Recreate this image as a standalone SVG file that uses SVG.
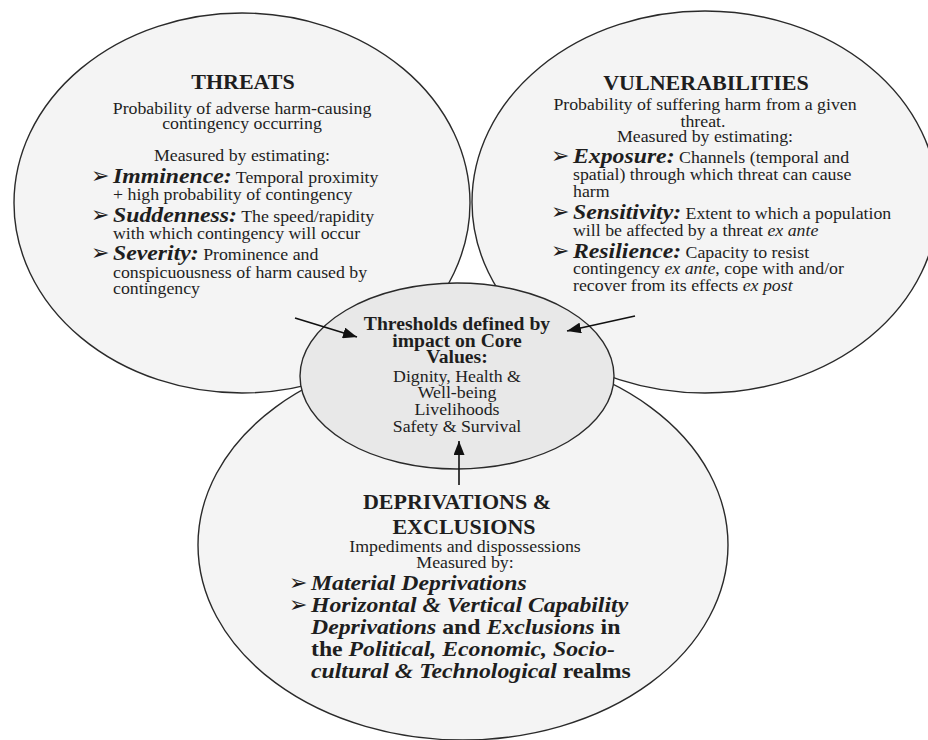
<svg xmlns="http://www.w3.org/2000/svg" width="928" height="740" viewBox="0 0 928 740">
<style>
  .big { fill: #f4f4f4; stroke: none; }
  .outline { fill: none; stroke: #2a2a2a; stroke-width: 1.4; }
  .core { fill: #e8e8e8; stroke: #2a2a2a; stroke-width: 1.4; }
  text { font-family: "Liberation Serif", "Times New Roman", serif; fill: #1e1e1e; font-size: 16.5px; }
  .c { text-anchor: middle; }
  .h { font-weight: bold; font-size: 20.4px; }
  .hc { font-weight: bold; font-size: 18.2px; }
  .bi { font-weight: bold; font-style: italic; font-size: 22px; }
  .bb { font-weight: bold; font-size: 22px; }
  .i { font-style: italic; }
  .bul { font-family: "DejaVu Sans", sans-serif; font-size: 22px; font-weight: bold; fill: #1e1e1e; }
  .conn { stroke: #111; stroke-width: 1.6; fill: none; }
</style>
<defs>
  <marker id="ah" markerUnits="userSpaceOnUse" markerWidth="15" markerHeight="11" refX="14" refY="5.5" orient="auto">
    <path d="M0,0 L14,5.5 L0,11 Z" fill="#111"/>
  </marker>
</defs>
<rect width="928" height="740" fill="#ffffff"/>

<g id="threats">
  <ellipse class="big" cx="242" cy="203" rx="228" ry="190"/>
</g>
<g id="vulnerabilities">
  <ellipse class="big" cx="705" cy="202" rx="233" ry="191"/>
</g>
<g id="deprivations">
  <ellipse class="big" cx="463" cy="545" rx="265" ry="195"/>
</g>
<g id="outlines">
  <ellipse class="outline" cx="242" cy="203" rx="228" ry="190"/>
  <ellipse class="outline" cx="705" cy="202" rx="233" ry="191"/>
  <ellipse class="outline" cx="463" cy="545" rx="265" ry="195"/>
</g>

<g id="threats-text">
  <text class="c h" transform="translate(243,89) scale(1.08,1)">THREATS</text>
  <text class="c" transform="translate(242,114) scale(1.08,1)">Probability of adverse harm-causing</text>
  <text class="c" transform="translate(242,129) scale(1.08,1)">contingency occurring</text>
  <text class="c" transform="translate(242,161) scale(1.08,1)">Measured by estimating:</text>
  <text class="bul" x="91" y="183">➢</text>
  <text transform="translate(113,183) scale(1.08,1)"><tspan class="bi">Imminence:</tspan> Temporal proximity</text>
  <text transform="translate(113,200) scale(1.08,1)">+ high probability of  contingency</text>
  <text class="bul" x="91" y="222">➢</text>
  <text transform="translate(113,222) scale(1.08,1)"><tspan class="bi">Suddenness:</tspan> The speed/rapidity</text>
  <text transform="translate(113,239) scale(1.08,1)">with which contingency will occur</text>
  <text class="bul" x="91" y="260">➢</text>
  <text transform="translate(113,260) scale(1.08,1)"><tspan class="bi">Severity:</tspan> Prominence and</text>
  <text transform="translate(113,278) scale(1.08,1)">conspicuousness of harm caused by</text>
  <text transform="translate(113,294) scale(1.08,1)">contingency</text>
</g>

<g id="vulnerabilities-text">
  <text class="c h" transform="translate(706,90) scale(1.08,1)">VULNERABILITIES</text>
  <text class="c" transform="translate(705,110) scale(1.08,1)">Probability of suffering harm from a given</text>
  <text class="c" transform="translate(703,127) scale(1.08,1)">threat.</text>
  <text class="c" transform="translate(705,142) scale(1.08,1)">Measured by estimating:</text>
  <text class="bul" x="551" y="163">➢</text>
  <text transform="translate(573,163) scale(1.08,1)"><tspan class="bi">Exposure:</tspan> Channels (temporal and</text>
  <text transform="translate(573,180) scale(1.08,1)">spatial) through which threat can cause</text>
  <text transform="translate(573,197) scale(1.08,1)">harm</text>
  <text class="bul" x="551" y="219">➢</text>
  <text transform="translate(573,219) scale(1.08,1)"><tspan class="bi">Sensitivity:</tspan> Extent to which a population</text>
  <text transform="translate(573,236) scale(1.08,1)">will be affected by a threat <tspan class="i">ex ante</tspan></text>
  <text class="bul" x="551" y="258">➢</text>
  <text transform="translate(573,258) scale(1.08,1)"><tspan class="bi">Resilience:</tspan> Capacity to resist</text>
  <text transform="translate(573,274) scale(1.08,1)">contingency <tspan class="i">ex ante</tspan>, cope with and/or</text>
  <text transform="translate(573,291) scale(1.08,1)">recover from its effects <tspan class="i">ex post</tspan></text>
</g>

<g id="deprivations-text">
  <text class="c h" transform="translate(457,509) scale(1.08,1)">DEPRIVATIONS &amp;</text>
  <text class="c h" transform="translate(464,534) scale(1.08,1)">EXCLUSIONS</text>
  <text class="c" transform="translate(465,552) scale(1.08,1)">Impediments and dispossessions</text>
  <text class="c" transform="translate(465,568) scale(1.08,1)">Measured by:</text>
  <text class="bul" x="289" y="590">➢</text>
  <text class="bi" transform="translate(311,590) scale(1.08,1)">Material Deprivations</text>
  <text class="bul" x="289" y="612">➢</text>
  <text class="bi" transform="translate(311,612) scale(1.08,1)">Horizontal &amp; Vertical Capability</text>
  <text transform="translate(311,634) scale(1.08,1)"><tspan class="bi">Deprivations</tspan><tspan class="bb"> and </tspan><tspan class="bi">Exclusions</tspan><tspan class="bb"> in</tspan></text>
  <text transform="translate(311,656) scale(1.08,1)"><tspan class="bb">the </tspan><tspan class="bi">Political, Economic, Socio-</tspan></text>
  <text transform="translate(311,678) scale(1.08,1)"><tspan class="bi">cultural &amp; Technological</tspan><tspan class="bb"> realms</tspan></text>
</g>

<g id="core-values">
  <ellipse class="core" cx="457" cy="376" rx="157" ry="93"/>
  <text class="c hc" transform="translate(457,330) scale(1.08,1)">Thresholds defined by</text>
  <text class="c hc" transform="translate(457,347) scale(1.08,1)">impact on Core</text>
  <text class="c hc" transform="translate(457,363) scale(1.08,1)">Values:</text>
  <text class="c" transform="translate(457,382) scale(1.08,1)">Dignity, Health &amp;</text>
  <text class="c" transform="translate(457,398) scale(1.08,1)">Well-being</text>
  <text class="c" transform="translate(457,415) scale(1.08,1)">Livelihoods</text>
  <text class="c" transform="translate(457,432) scale(1.08,1)">Safety &amp; Survival</text>
</g>

<g id="connectors">
  <line class="conn" x1="295" y1="318" x2="357" y2="337" marker-end="url(#ah)"/>
  <line class="conn" x1="635" y1="316" x2="567" y2="331" marker-end="url(#ah)"/>
  <line class="conn" x1="459" y1="485" x2="459" y2="441" marker-end="url(#ah)"/>
</g>
</svg>
